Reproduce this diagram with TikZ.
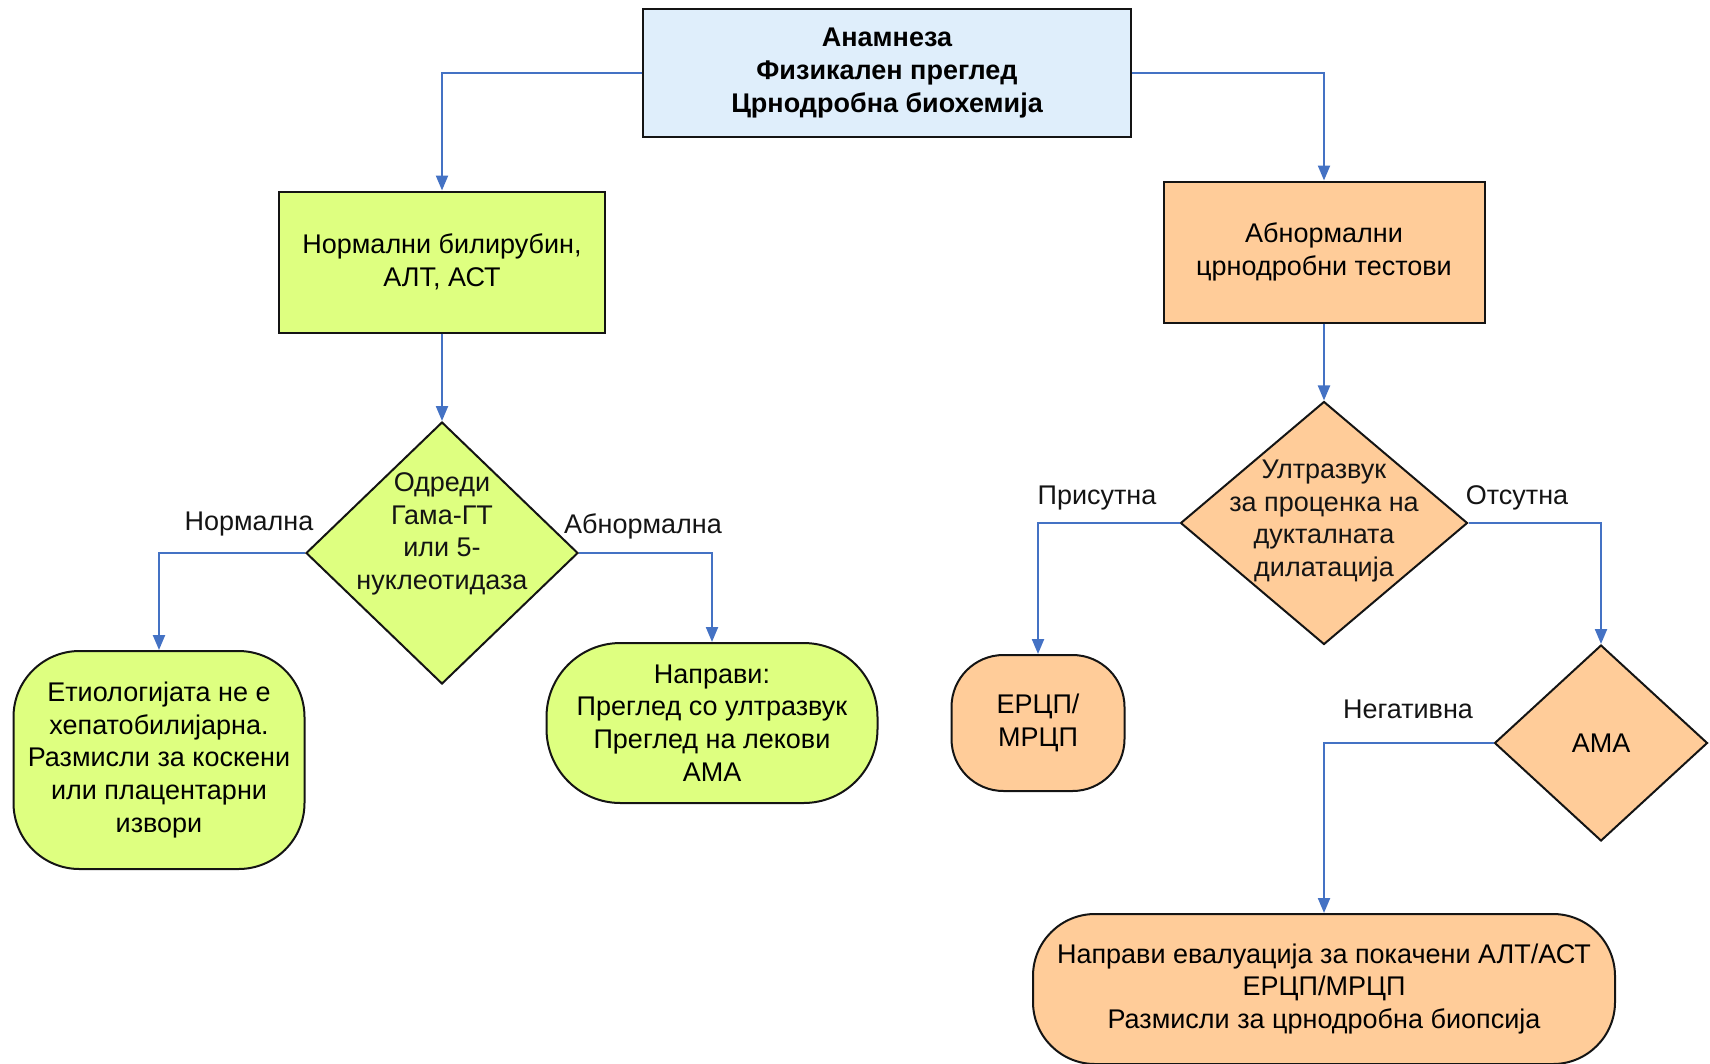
\documentclass[tikz,border=0pt]{standalone}
\usepackage{fontspec}
\setmainfont{Liberation Sans}
\usetikzlibrary{positioning,arrows.meta,shapes.geometric}
\definecolor{colorhead}{RGB}{223,238,251}
\definecolor{colornorm}{RGB}{222,255,128}
\definecolor{colorabn} {RGB}{255,204,153}
\definecolor{colorline}{RGB}{68 ,114,196}
\definecolor{colortext}{RGB}{20 ,20 ,20 }

\begin{document}
\begin{tikzpicture}[
    x=1pt, y=-1pt,
    font={\fontsize{27}{32.7}\selectfont},
    box/.style={draw=colortext,line width=2pt,align=center,inner sep=0pt},
    headbox/.style={box,font={\fontsize{27}{32.7}\selectfont\bfseries}},
    term/.style={box,rounded corners=#1},
    dec/.style={draw=colortext,line width=2pt,diamond,inner sep=0pt},
    txt/.style={text=colortext,align=center,inner sep=0pt},
    lbl/.style={text=colortext,inner sep=0pt},
    link/.style={draw=colorline,line width=2.2pt,-{Triangle[length=15pt,width=12pt]}},
]
    \useasboundingbox (0,0) rectangle (1710,1063);

    \node[headbox,fill=colorhead,minimum width=488pt,minimum height=128pt] (head) at (887,73)
        {Анамнеза\\Физикален преглед\\Црнодробна биохемија};

    % left branch
    \node[box,fill=colornorm,minimum width=326pt,minimum height=141pt] (norm) at (442,262)
        {Нормални билирубин,\\АЛТ, АСТ};
    \node[dec,fill=colornorm,minimum width=272pt,minimum height=262pt] (gama) at (442,553) {};
    \node[txt] (gamatxt) at (442,534) {Одреди\\Гама-ГТ\\или 5-\\нуклеотидаза};
    \node[term=66pt,fill=colornorm,minimum width=291pt,minimum height=218pt] (etiol) at (159,760)
        {Етиологијата не е\\хепатобилијарна.\\Размисли за коскени\\или плацентарни\\извори};
    \node[term=74pt,fill=colornorm,minimum width=331pt,minimum height=160pt] (napravi) at (712,723)
        {Направи:\\Преглед со ултразвук\\Преглед на лекови\\АМА};

    % right branch
    \node[box,fill=colorabn,minimum width=321pt,minimum height=141pt] (abn) at (1324,252)
        {Абнормални\\црнодробни тестови};
    \node[dec,fill=colorabn,minimum width=287pt,minimum height=243pt] (ultra) at (1324,523) {};
    \node[txt] (ultratxt) at (1324,521) {Ултразвук\\за проценка на\\дукталната\\дилатација};
    \node[term=52pt,fill=colorabn,minimum width=173pt,minimum height=136pt] (ercp) at (1038,723)
        {ЕРЦП/\\МРЦП};
    \node[dec,fill=colorabn,minimum width=213pt,minimum height=196pt] (ama) at (1601,743) {АМА};
    \node[term=62pt,fill=colorabn,minimum width=582pt,minimum height=150pt] (eval) at (1324,989)
        {Направи евалуација за покачени АЛТ/АСТ\\ЕРЦП/МРЦП\\Размисли за црнодробна биопсија};

    % branch labels
    \node[lbl] (lnorm) at (249,524) {Нормална};
    \node[lbl] (labn) at (643,526) {Абнормална};
    \node[lbl] (lpris) at (1097,498) {Присутна};
    \node[lbl] (lots) at (1517,498) {Отсутна};
    \node[lbl] (lneg) at (1408,709) {Негативна};

    % connectors
    \draw[link] (head.west) -| (norm.north);
    \draw[link] (head.east) -| (abn.north);
    \draw[link] (norm) -- (gama);
    \draw[link] (gama.west) -| (etiol.north);
    \draw[link] (gama.east) -| (napravi.north);
    \draw[link] (abn) -- (ultra);
    \draw[link] (ultra.west) -| (ercp.north);
    \draw[link] (ultra.east) -| (ama.north);
    \draw[link] (ama.west) -| (eval.north);

\end{tikzpicture}
\end{document}
